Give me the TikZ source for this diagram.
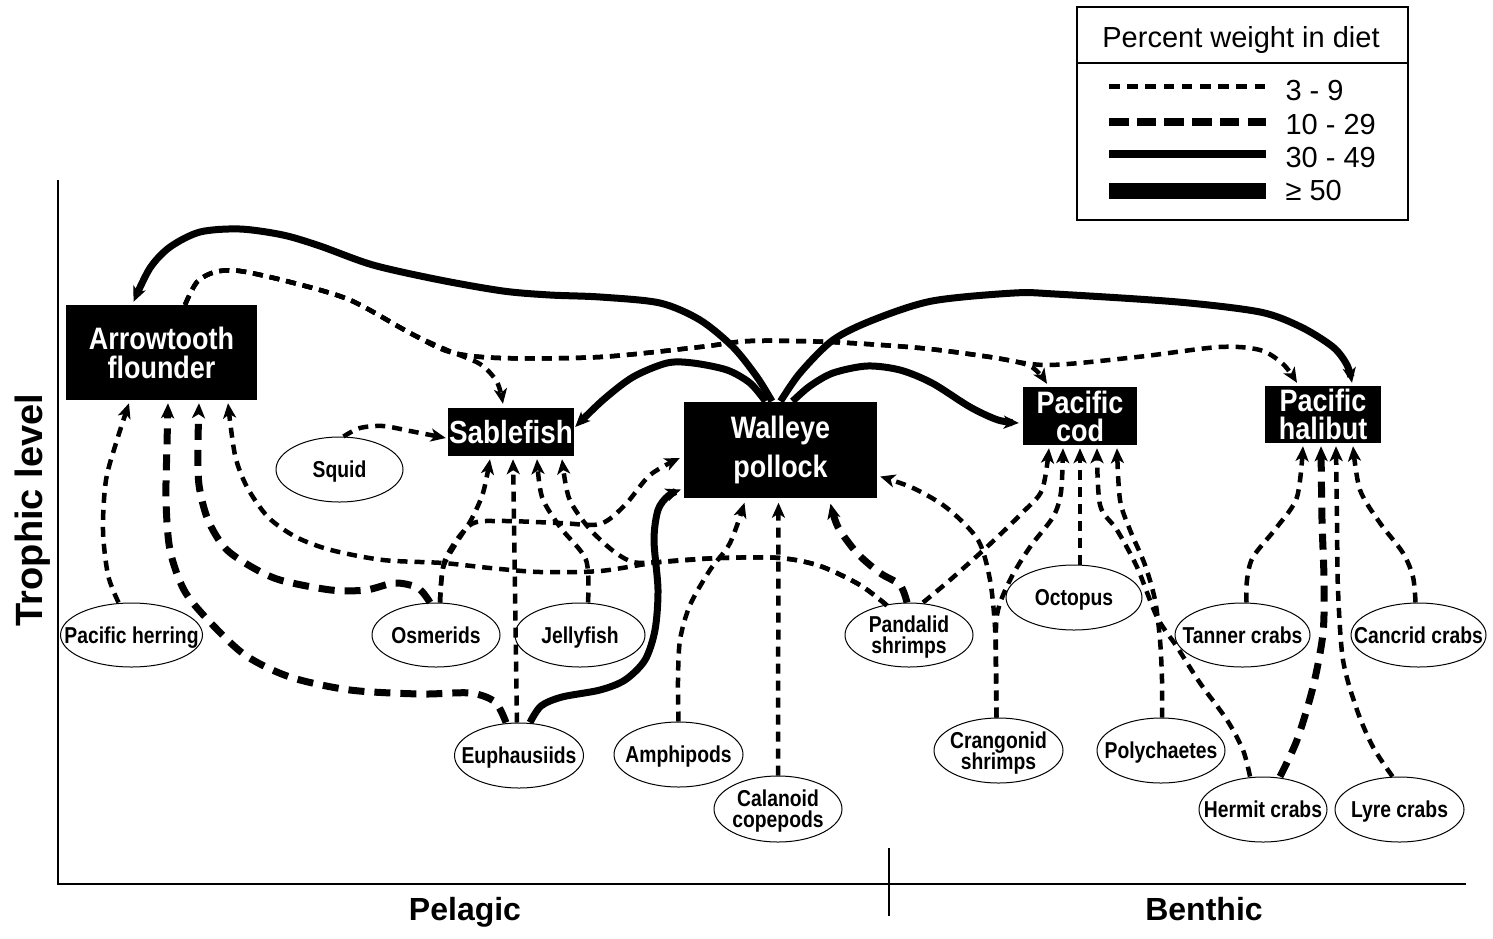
\documentclass[tikz,border=0pt]{standalone}
\usepackage{fontspec}
\setmainfont{Liberation Sans}
\newfontfamily\condfont[FakeStretch=0.87]{Liberation Sans}
\newfontfamily\ellfont[FakeStretch=0.84]{Liberation Sans}
% zero-width, fixed-height text line for ellipses
\newcommand\zw[1]{\makebox[0pt]{\rule[-1pt]{0pt}{18pt}\smash{#1}}}
% zero-width, fixed-height text line for the small boxes
\newcommand\zb[1]{\makebox[0pt]{\rule[-1pt]{0pt}{24pt}\smash{#1}}}
\usetikzlibrary{arrows.meta,shapes.geometric}
\tikzset{
  lthin/.style={line width=4.5pt, dash pattern=on 10pt off 7pt},
  lmed/.style={line width=7pt, dash pattern=on 16pt off 10pt},
  lsolid/.style={line width=7pt},
  tipd/.style={-{Stealth[length=15pt,width=13pt,inset=4pt]}},
  box/.style={fill=black, text=white, inner sep=0pt, align=center},
  bigbox/.style={box, font=\condfont\bfseries\fontsize{31}{29}\selectfont},
  smallbox/.style={box, font=\condfont\bfseries\fontsize{31}{28}\selectfont},
  ell/.style={draw, line width=1pt, ellipse, inner sep=0pt, align=center,
    minimum height=65pt, font=\ellfont\bfseries\fontsize{23}{21}\selectfont},
  axislab/.style={font=\bfseries\fontsize{32}{32}\selectfont, anchor=base},
  legtext/.style={font=\fontsize{29}{29}\selectfont, anchor=base west},
}
\begin{document}
\begin{tikzpicture}[x=1pt,y=-1pt]
\useasboundingbox (0,0) rectangle (1493,938);
% axes
\draw[line width=2pt] (58,180) -- (58,884) -- (1466,884);
\draw[line width=2pt] (889,848) -- (889,916);
\node[rotate=90, anchor=base, font=\bfseries\fontsize{38}{38}\selectfont] (ylab) at (42,510) {Trophic level};
\node[axislab] (pel) at (465,920) {Pelagic};
\node[axislab] (ben) at (1204,920) {Benthic};
% legend
\draw[line width=2pt] (1077,7) rectangle (1408,220);
\draw[line width=2pt] (1077,63) -- (1408,63);
\node[font=\fontsize{29}{29}\selectfont, anchor=base] (legt) at (1241,47) {Percent weight in diet};
\draw[line width=5pt, dash pattern=on 10.5pt off 7.7pt] (1109,86) -- (1266,86);
\draw[line width=7.5pt, dash pattern=on 19.5pt off 8.2pt] (1109,122) -- (1266,122);
\draw[line width=8pt] (1109,154) -- (1266,154);
\draw[line width=16.5pt] (1109,191) -- (1266,191);
\node[legtext] (l1) at (1282,100) {3 - 9};
\node[legtext] (l2) at (1282,134) {10 - 29};
\node[legtext] (l3) at (1282,167) {30 - 49};
\node[legtext] (l4) at (1282,200) {≥ 50};
% predator boxes
\node[bigbox, minimum width=191pt, minimum height=95pt] (atf) at (161.5,352.5) {Arrowtooth\\flounder};
\node[box, minimum width=126pt, minimum height=48pt, font=\condfont\bfseries\fontsize{32}{30}\selectfont] (sab) at (511,432) {Sablefish};
\node[box, minimum width=193pt, minimum height=96pt, font=\condfont\bfseries\fontsize{31}{39}\selectfont] (wp) at (780.5,449.5) {Walleye\\pollock};
\node[smallbox, minimum width=114pt, minimum height=58pt] (pcod) at (1080,416) {\zb{Pacific}\\\zb{cod}};
\node[smallbox, minimum width=116pt, minimum height=57pt] (phal) at (1323,414.5) {\zb{Pacific}\\\zb{halibut}};
% prey ellipses
\node[ell, minimum width=127pt] (squid) at (339.5,469.5) {\zw{Squid}};
\node[ell, minimum width=142pt, minimum height=64pt] (herr) at (131.5,635) {\zw{Pacific herring}};
\node[ell, minimum width=128pt, minimum height=64pt] (osm) at (436,635) {\zw{Osmerids}};
\node[ell, minimum width=130pt, minimum height=64pt] (jelly) at (580,635) {\zw{Jellyfish}};
\node[ell, minimum width=129pt] (euph) at (519,755.5) {\zw{Euphausiids}};
\node[ell, minimum width=129pt] (amph) at (678.5,754.5) {\zw{Amphipods}};
\node[ell, minimum width=128pt, minimum height=66pt] (cal) at (778,809) {\zw{Calanoid}\\\zw{copepods}};
\node[ell, minimum width=128pt, minimum height=64pt] (pand) at (909,635) {\zw{Pandalid}\\\zw{shrimps}};
\node[ell, minimum width=136pt] (oct) at (1074,597.5) {\zw{Octopus}};
\node[ell, minimum width=129pt] (crang) at (998.5,750.5) {\zw{Crangonid}\\\zw{shrimps}};
\node[ell, minimum width=128pt] (poly) at (1161,750.5) {\zw{Polychaetes}};
\node[ell, minimum width=135pt, minimum height=64pt] (tan) at (1242.5,635) {\zw{Tanner crabs}};
\node[ell, minimum width=135pt, minimum height=64pt] (canc) at (1418.5,635) {\zw{Cancrid crabs}};
\node[ell, minimum width=128pt] (herm) at (1263,809.5) {\zw{Hermit crabs}};
\node[ell, minimum width=129pt] (lyre) at (1399.5,809.5) {\zw{Lyre crabs}};
% ---- connectors ----
% into Arrowtooth flounder
\draw[lthin,tipd] plot[smooth] coordinates {([xshift=-13pt]herr.north) (108,575) (103,530) (106,480) (117,440) ([xshift=-32.5pt,yshift=-3pt]atf.south)};
\draw[lmed,tipd] plot[smooth] coordinates {([xshift=-13pt]euph.north) (495,702) (470,693) (420,694) (350,690) (290,677) (245,655) (208,620) (184,590) (170,550) (166,500) (167,445) ([xshift=6.5pt,yshift=-3pt]atf.south)};
\draw[lmed,tipd] plot[smooth] coordinates {([xshift=-6pt]osm.north) (418,588) (395,583) (366,590) (331,590) (280,580) (250,566) (225,548) (208,520) (199,485) (198,445) ([xshift=37.5pt,yshift=-3pt]atf.south)};
\draw[lthin,tipd] plot[smooth] coordinates {([xshift=-22pt,yshift=-3pt]pand.north) (860,585) (820,566) (780,558) (720,558) (660,562) (600,571) (540,572) (490,568) (443,563) (383,560) (331,550) (296,537) (268,517) (247,487) (235,455) ([xshift=66.5pt,yshift=-3pt]atf.south)};
% into Sablefish
\draw[lthin,tipd] plot[smooth] coordinates {([xshift=-22pt,yshift=-3pt]pand.north) (860,585) (820,566) (780,558) (720,558) (660,562) (633,562) (612,550) (588,527) (569,498) ([xshift=51pt,yshift=-3pt]sab.south)};
\draw[lthin,tipd] plot[smooth] coordinates {([xshift=4pt]osm.north) (443,568) (455,545) (471,520) (483,493) ([xshift=-21pt,yshift=-3pt]sab.south)};
\draw[lthin,tipd] ([xshift=-2pt]euph.north) -- ([xshift=2pt,yshift=-3pt]sab.south);
\draw[lthin,tipd] plot[smooth] coordinates {([xshift=8pt]jelly.north) (586,560) (560,527) (542,497) ([xshift=26pt,yshift=-3pt]sab.south)};
\draw[lthin,tipd] plot[smooth] coordinates {([xshift=4pt]squid.north) (360,428) (383,426) (410,431) ([xshift=-2pt,yshift=-6pt]sab.west)};
\draw[lthin,tipd] plot[smooth] coordinates {([xshift=23.5pt]atf.north) (197,282) (215,272) (240,271) (290,282) (350,300) (410,333) (447,350) (480,364) (497,382) ([xshift=-8pt,yshift=4pt]sab.north)};
% Arrowtooth to cod and halibut
\draw[lthin,tipd] plot[smooth] coordinates {([xshift=23.5pt]atf.north) (197,282) (215,272) (240,271) (290,282) (350,300) (410,333) (450,352) (500,358) (600,357) (700,347) (750,341) (830,342) (920,348) (990,357) (1030,366) ([xshift=-33pt,yshift=3pt]pcod.north)};
\draw[lthin,tipd] plot[smooth] coordinates {([xshift=23.5pt]atf.north) (197,282) (215,272) (240,271) (290,282) (350,300) (410,333) (450,352) (500,358) (600,357) (700,347) (750,341) (830,342) (920,348) (990,357) (1047,365) (1137,357) (1219,347) (1260,350) (1283,364) ([xshift=-26pt,yshift=3pt]phal.north)};
% out of Walleye pollock (solid)
\draw[lsolid,tipd] plot[smooth] coordinates {([xshift=-8.5pt]wp.north) (757,377) (733,347) (700,320) (660,303) (600,297) (550,295) (503,291) (440,280) (373,265) (320,246) (283,235) (240,229) (200,232) (170,247) (150,268) ([xshift=-28pt,yshift=3pt]atf.north)};
\draw[lsolid,tipd] plot[smooth] coordinates {([xshift=-15pt]wp.north) (750,383) (727,370) (693,363) (667,363) (633,377) (603,400) ([xshift=1pt,yshift=5pt]sab.east)};
\draw[lsolid,tipd] plot[smooth] coordinates {([xshift=12pt]wp.north) (810,386) (833,373) (867,366) (900,370) (932,383) (970,407) (998,420) ([xshift=-4pt,yshift=-7pt]pcod.west)};
\draw[lsolid,tipd] plot[smooth] coordinates {(wp.north) (800,373) (833,340) (873,320) (932,301) (1014,293) (1055,294) (1178,302) (1260,312) (1301,327) (1333,347) (1347,365) ([xshift=29pt,yshift=3pt]phal.north)};
% into Walleye pollock
\draw[lthin,tipd] plot[smooth] coordinates {([xshift=4pt]osm.north) (445,560) (470,525) (500,521) (560,523) (600,524) (625,505) (650,475) ([xshift=-4pt,yshift=-8.5pt]wp.west)};
\draw[lsolid,tipd] plot[smooth] coordinates {([xshift=11pt]euph.north) (541,706) (562,697) (600,690) (625,680) (645,660) (655,630) (658,590) (654,540) (658,510) (668,496) ([xshift=-3pt,yshift=-40pt]wp.west)};
\draw[lthin,tipd] plot[smooth] coordinates {(amph.north) (678,680) (680,640) (690,605) (710,570) (730,543) ([xshift=-36pt,yshift=-5pt]wp.south)};
\draw[lthin,tipd] (cal.north) -- ([xshift=-2pt,yshift=-5pt]wp.south);
\draw[lmed,tipd] plot[smooth] coordinates {([xshift=-2pt]pand.north) (900,585) (880,573) (857,553) (838,527) ([xshift=50pt,yshift=-6pt]wp.south)};
\draw[lthin,tipd] plot[smooth] coordinates {([xshift=-2pt]crang.north) (996,670) (995,627) (990,580) (978,540) (947,508) (913,488) ([xshift=3pt,yshift=-27pt]wp.east)};
% into Pacific cod
\draw[lthin,tipd] plot[smooth] coordinates {([xshift=14pt]pand.north) (950,580) (989,545) (1022,513) (1042,490) ([xshift=-31pt,yshift=-3pt]pcod.south)};
\draw[lthin,tipd] plot[smooth] coordinates {([xshift=-2pt]crang.north) (996,670) (997,615) (1010,580) (1030,547) (1053,517) (1061,492) ([xshift=-17pt,yshift=-3pt]pcod.south)};
\draw[lthin,tipd] ([xshift=6pt]oct.north) -- ([yshift=-3pt]pcod.south);
\draw[lthin,tipd] plot[smooth] coordinates {([xshift=-13pt]herm.north) (1243,750) (1227,720) (1200,683) (1177,647) (1157,617) (1137,567) (1117,530) (1100,505) ([xshift=17pt,yshift=-3pt]pcod.south)};
\draw[lthin,tipd] plot[smooth] coordinates {([xshift=1pt]poly.north) (1162,680) (1160,640) (1155,600) (1145,565) (1130,530) (1120,500) ([xshift=37pt,yshift=-3pt]pcod.south)};
% into Pacific halibut
\draw[lthin,tipd] plot[smooth] coordinates {([xshift=4pt]tan.north) (1247,580) (1253,557) (1277,527) (1297,497) ([xshift=-20pt,yshift=-3pt]phal.south)};
\draw[lmed,tipd] plot[smooth] coordinates {([xshift=17pt]herm.north) (1297,740) (1313,687) (1323,633) (1324,580) (1322,520) ([xshift=-2pt,yshift=-3pt]phal.south)};
\draw[lthin,tipd] plot[smooth] coordinates {([xshift=-7pt]lyre.north) (1373,747) (1357,710) (1343,660) (1338,590) (1337,520) ([xshift=13pt,yshift=-3pt]phal.south)};
\draw[lthin,tipd] plot[smooth] coordinates {([xshift=-3pt]canc.north) (1413,577) (1403,553) (1380,523) (1360,490) ([xshift=30pt,yshift=-3pt]phal.south)};
\end{tikzpicture}
\end{document}
